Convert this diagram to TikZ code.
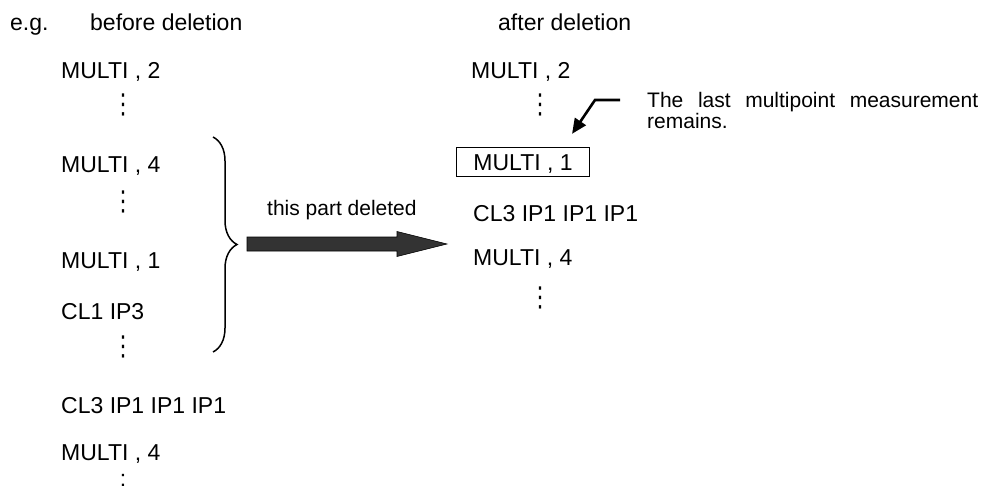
\documentclass[tikz,border=0pt]{standalone}
\usepackage{fontspec}
\setmainfont{Liberation Sans}
\newfontfamily\dotsfont{DejaVu Sans}
\usetikzlibrary{arrows.meta,decorations.pathreplacing}

\begin{document}
\begin{tikzpicture}[x=1pt, y=-1pt,
    txt/.style={font=\fontsize{23}{28}\selectfont, text height=16.5pt, text depth=0pt, inner sep=0pt, anchor=west},
    vd/.style={font=\dotsfont\fontsize{22}{22}\selectfont, inner sep=0pt},
    note/.style={font=\fontsize{21}{21}\selectfont, align=left, inner sep=0pt, anchor=north west},
    brc/.style={decorate, decoration={brace, amplitude=24pt}, line width=1.5pt},
    bigarrow/.style={draw=black, fill=black!80, line width=0.6pt, line join=miter},
    callout/.style={line width=2.6pt, line join=miter, -{Triangle[length=15pt, width=13pt]}}]
  \useasboundingbox (0,0) rectangle (982,497);

  % headings
  \node (eg) [txt] at (10,22) {e.g.};
  \node (Before) [txt] at (90,22) {before deletion};
  \node (After) [txt] at (498,22) {after deletion};

  % before deletion
  \node (B1) [txt] at (61,70) {MULTI , 2};
  \node (B1d) [vd] at (123,105) {\scalebox{1}[1.25]{⋮}};
  \node (B2) [txt] at (61,164) {MULTI , 4};
  \node (B2d) [vd] at (123,202) {\scalebox{1}[1.25]{⋮}};
  \node (B3) [txt] at (61,260) {MULTI , 1};
  \node (B4) [txt] at (61,311) {CL1 IP3};
  \node (B4d) [vd] at (123,347) {\scalebox{1}[1.25]{⋮}};
  \node (B5) [txt] at (61,405) {CL3 IP1 IP1 IP1};
  \node (B6) [txt] at (61,452) {MULTI , 4};
  \node (B6d) [txt, anchor=center] at (123,478) {:};

  % after deletion
  \node (A1) [txt] at (471,70) {MULTI , 2};
  \node (A1d) [vd] at (540,105) {\scalebox{1}[1.25]{⋮}};
  \node (A2) [txt, draw, line width=0.8pt, inner xsep=17pt, inner ysep=6.5pt] at (456,162) {MULTI , 1};
  \node (A3) [txt] at (473,213) {CL3 IP1 IP1 IP1};
  \node (A4) [txt] at (473,257) {MULTI , 4};
  \node (A4d) [vd] at (540,298) {\scalebox{1}[1.25]{⋮}};

  % deleted part
  \coordinate (BrTop) at (213,137);
  \coordinate (BrBot) at (213,352);
  \draw [brc] (BrTop) -- (BrBot);
  \coordinate (ArS) at (247,244);
  \coordinate (ArE) at (447,244);
  \draw [bigarrow] (ArS) -- ++(0,-7) -- ++(150,0) -- ++(0,-5.5) -- (ArE)
    -- ++(-50,12.5) -- ++(0,-5.5) -- ++(-150,0) -- cycle;
  \node (Del) [txt, font=\fontsize{21}{21}\selectfont] at (267,207) {this part deleted};

  % note
  \node (Note) [note] at (647,92) {\makebox[331pt][s]{The last multipoint measurement}\\remains.};
  \coordinate (NoteEnd) at (620,100);
  \coordinate (Bend) at (595,100);
  \draw [callout] (NoteEnd) -- (Bend) -- ([xshift=-18pt, yshift=13pt]A2.north east);
\end{tikzpicture}
\end{document}
